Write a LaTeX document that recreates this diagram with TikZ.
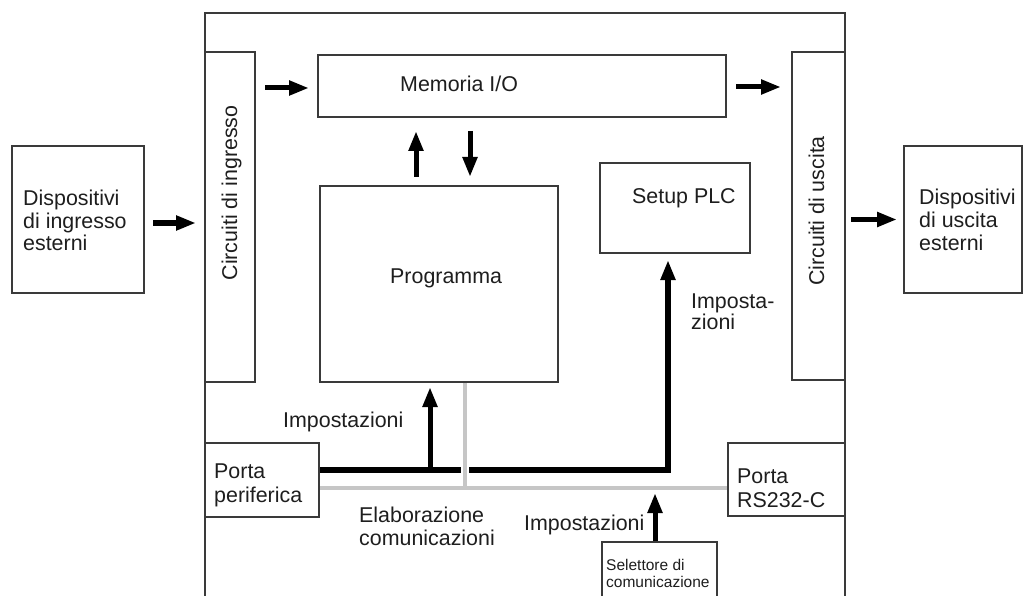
\documentclass[tikz,border=0pt]{standalone}
\usepackage{fontspec}
\setmainfont{Liberation Sans}
\usetikzlibrary{arrows.meta,calc}
\definecolor{ink}{HTML}{1E1E1E}
\definecolor{frame}{HTML}{3A3A3A}
\definecolor{bus}{HTML}{C6C6C6}

\begin{document}
\begin{tikzpicture}[x=1pt,y=-1pt,
  box/.style={draw=frame, line width=2pt, rectangle, inner sep=0pt},
  lbl/.style={inner sep=0pt, text=ink, font=\fontsize{21.4}{23}\selectfont, align=left},
  small/.style={inner sep=0pt, text=ink, font=\fontsize{15.5}{16.8}\selectfont, align=left},
  arr/.style={line width=5pt, draw=black, -{Triangle[length=20pt,width=14pt]}},
  feed/.style={line width=5.5pt, draw=black, line join=miter},
  graybus/.style={line width=4.5pt, draw=bus}]

\useasboundingbox (0,0) rectangle (1025,596);
\fill[white] (0,0) rectangle (1025,596);

% PLC enclosure (open at the bottom)
\draw[frame, line width=2pt] (205,610) -- (205,13) -- (845,13) -- (845,610);

% blocks
\node[box, minimum width=132pt, minimum height=147pt] (din)   at (78,219.5)   {};
\node[box, minimum width=118pt, minimum height=147pt] (dout)  at (963,219.5)  {};
\node[box, minimum width=50pt,  minimum height=330pt] (cin)   at (230,217)    {};
\node[box, minimum width=53pt,  minimum height=328pt] (cout)  at (818.5,216)  {};
\node[box, minimum width=408pt, minimum height=62pt]  (mem)   at (522,86)     {};
\node[box, minimum width=238pt, minimum height=196pt] (prog)  at (439,284)    {};
\node[box, minimum width=150pt, minimum height=90pt]  (setup) at (675,208)    {};
\node[box, minimum width=114pt, minimum height=74pt]  (pper)  at (262,480)    {};
\node[box, minimum width=117pt, minimum height=73pt]  (rs)    at (786.5,479.5){};
\node[box, minimum width=115pt, minimum height=70pt]  (sel)   at (659.5,577)  {};

% block texts (multi-line nodes sit on the baseline of their last line)
\node[lbl, anchor=base west, font=\fontsize{21.4}{22.5}\selectfont] (tdin)  at (23,251)  {Dispositivi\\di ingresso\\esterni};
\node[lbl, anchor=base west, font=\fontsize{21.4}{22.5}\selectfont] (tdout) at (919,250) {Dispositivi\\di uscita\\esterni};
\node[lbl, anchor=base, rotate=90] (tcin)  at (237,193) {Circuiti di ingresso};
\node[lbl, anchor=base, rotate=90] (tcout) at (824,211) {Circuiti di uscita};
\node[lbl, anchor=base west] (tmem)   at (400,92)  {Memoria I/O};
\node[lbl, anchor=base west] (tprog)  at (390,283) {Programma};
\node[lbl, anchor=base west] (tsetup) at (632,204) {Setup PLC};
\node[lbl, anchor=base west, font=\fontsize{21.4}{24}\selectfont] (tpper) at (214,502) {Porta\\periferica};
\node[lbl, anchor=base west, font=\fontsize{21.4}{24}\selectfont] (trs)   at (737,507) {Porta\\RS232-C};
\node[small, anchor=base west] (tsel) at (606,587) {Selettore di\\comunicazione};

% signal flow
\coordinate (inA) at ([yshift=-3.5pt]din.east);
\draw[arr, shorten <=8pt, shorten >=8pt] (inA) -- (inA -| cin.west);
\coordinate (memA) at ([yshift=-2pt]mem.west);
\draw[arr, shorten <=9pt, shorten >=8pt] (memA -| cin.east) -- (memA);
\coordinate (memB) at ([yshift=-1pt]mem.east);
\draw[arr, shorten <=9pt, shorten >=10pt] (memB) -- (memB -| cout.west);
\draw[arr, shorten <=5pt, shorten >=6pt] (dout.west -| cout.east) -- (dout.west);
\coordinate (pUp) at ([xshift=-23pt]prog.north);
\draw[arr, shorten <=8pt, shorten >=13pt] (pUp) -- (pUp |- mem.south);
\coordinate (pDn) at ([xshift=31pt]prog.north);
\draw[arr, shorten <=13pt, shorten >=8pt] (pDn |- mem.south) -- (pDn);

% settings bus from the peripheral port
\coordinate (bend)  at (668,470);
\coordinate (tap)   at (430,470);
\coordinate (cross) at (465,488);
\draw[feed, -{Triangle[length=20pt,width=14pt]}, shorten >=6pt]
  (pper.east |- bend) -- (bend) -- (bend |- setup.south);
\draw[arr, shorten >=4pt] (tap) -- (tap |- prog.south);

% communication processing line
\draw[line width=8pt, white] ($(cross |- bend)+(0,-5)$) -- ($(cross |- bend)+(0,5)$);
\draw[graybus] (pper.east |- cross) -- (rs.west |- cross);
\draw[graybus] (cross) -- (cross |- prog.south);

\coordinate (selA) at ([xshift=-4.5pt]sel.north);
\draw[arr, shorten >=5pt] (selA) -- (selA |- cross);

% labels
\node[lbl, anchor=base west, font=\fontsize{21.4}{21}\selectfont] (limp1) at (691,329) {Imposta-\\zioni};
\node[lbl, anchor=base west] (limp2) at (283,427) {Impostazioni};
\node[lbl, anchor=base west] (lela)  at (359,545) {Elaborazione\\comunicazioni};
\node[lbl, anchor=base west] (limp3) at (524,530) {Impostazioni};
\end{tikzpicture}
\end{document}
